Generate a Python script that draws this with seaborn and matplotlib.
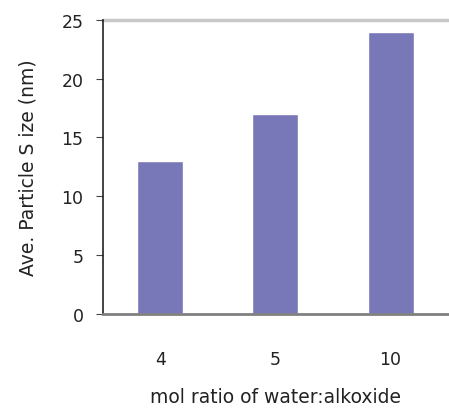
import pandas as pd
import seaborn as sns
import matplotlib.pyplot as plt

# data
ratios = ['4', '5', '10']
sizes = [13, 17, 24]

df = pd.DataFrame({'ratio': ratios, 'size': sizes})

sns.set_style('white')
plt.rcParams['font.family'] = ['DejaVu Sans']

fig = plt.figure(figsize=(4.49, 4.10), dpi=100)
ax = fig.add_axes([0.229, 0.232, 0.769, 0.717])

sns.barplot(data=df, x='ratio', y='size', color='#7878b8', saturation=1,
            width=0.4, ax=ax)

ax.set_xlim(-0.5, 2.5)
ax.set_ylim(0, 25)
ax.set_yticks([0, 5, 10, 15, 20, 25])

# top gridline and gray baseline
ax.axhline(25, color='#c8c8c8', lw=2.5, clip_on=False, zorder=0)
for s in ['top', 'right']:
    ax.spines[s].set_visible(False)
ax.spines['left'].set_color('#222222')
ax.spines['left'].set_linewidth(1.2)
ax.spines['bottom'].set_color('#808080')
ax.spines['bottom'].set_linewidth(2)

# category boundary ticks on x, labels centered under bars
ax.set_xticks([0.5, 1.5], minor=False)
ax.set_xticklabels([])
ax.set_xticks([0, 1, 2], minor=True)
ax.set_xticklabels(ratios, minor=True)
ax.tick_params(axis='x', which='major', direction='out', length=4, color='#444444')
ax.tick_params(axis='x', which='minor', length=0, pad=26, labelsize=12.5, labelcolor='#222222')
ax.tick_params(axis='y', direction='out', length=5, left=True, color='#444444',
               labelsize=12.5, labelcolor='#222222', pad=9)

ax.set_xlabel('mol ratio of water:alkoxide', fontsize=13.5, color='#222222', labelpad=14)
ax.set_ylabel('Ave. Particle S ize (nm)', fontsize=13.5, color='#222222')
ax.yaxis.set_label_coords(-0.19, 0.5)

fig.savefig('out.png', dpi=100)
